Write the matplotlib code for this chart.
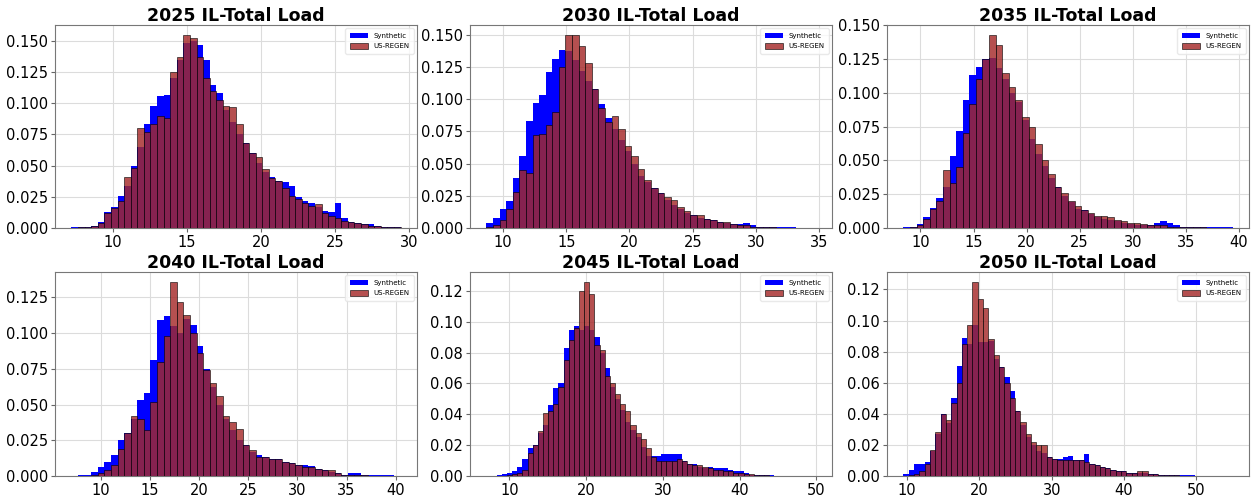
import numpy as np
import matplotlib
matplotlib.use("Agg")
import matplotlib.pyplot as plt
from matplotlib.ticker import MultipleLocator, FormatStrFormatter

years = ["2025", "2030", "2035", "2040", "2045", "2050"]
titles = [f"{y} IL-Total Load" for y in years]
series_names = ["Synthetic", "US-REGEN"]

# bin ranges (first edge, last edge, number of bins)
bin_start = [7.2, 8.7, 8.4, 7.0, 7.0, 9.5]
bin_stop = [29.4, 34.7, 39.4, 40.5, 49.88, 55.0]
bin_count = [50, 50, 50, 50, 64, 62]

# tick steps and label formats seen on the axes
x_step = [5, 5, 5, 5, 10, 10]
y_step = [0.025, 0.025, 0.025, 0.025, 0.02, 0.02]
y_fmt = ["%.3f", "%.3f", "%.3f", "%.3f", "%.2f", "%.2f"]

syn_2025 = [0.0005, 0.001, 0.001, 0.002, 0.005, 0.013, 0.017, 0.026, 0.034, 0.050,
            0.065, 0.083, 0.098, 0.106, 0.107, 0.120, 0.135, 0.148, 0.150, 0.147,
            0.135, 0.115, 0.108, 0.095, 0.085, 0.075, 0.068, 0.060, 0.052, 0.045,
            0.041, 0.038, 0.037, 0.034, 0.025, 0.022, 0.020, 0.017, 0.014, 0.013,
            0.020, 0.008, 0.005, 0.004, 0.003, 0.003, 0.002, 0.001, 0.001, 0.0005]
reg_2025 = [0.0003, 0.0005, 0.001, 0.002, 0.004, 0.012, 0.016, 0.022, 0.041, 0.048,
            0.080, 0.077, 0.083, 0.090, 0.088, 0.125, 0.137, 0.155, 0.152, 0.137,
            0.120, 0.110, 0.103, 0.098, 0.097, 0.083, 0.068, 0.060, 0.057, 0.047,
            0.040, 0.038, 0.032, 0.026, 0.023, 0.020, 0.018, 0.019, 0.012, 0.010,
            0.008, 0.006, 0.005, 0.004, 0.003, 0.002, 0.002, 0.001, 0.001, 0.0005]

syn_2030 = [0.004, 0.008, 0.015, 0.021, 0.039, 0.056, 0.083, 0.097, 0.103, 0.121,
            0.131, 0.138, 0.137, 0.130, 0.122, 0.114, 0.108, 0.096, 0.085, 0.077,
            0.068, 0.060, 0.050, 0.040, 0.036, 0.031, 0.027, 0.022, 0.018, 0.015,
            0.012, 0.010, 0.008, 0.007, 0.006, 0.005, 0.004, 0.003, 0.003, 0.004,
            0.002, 0.001, 0.001, 0.0008, 0.0006, 0.0005, 0.0004, 0.0003, 0.0003, 0.0002]
reg_2030 = [0.0005, 0.002, 0.006, 0.015, 0.028, 0.045, 0.043, 0.072, 0.073, 0.080,
            0.090, 0.125, 0.150, 0.150, 0.141, 0.128, 0.108, 0.093, 0.082, 0.087,
            0.077, 0.064, 0.056, 0.046, 0.037, 0.031, 0.027, 0.024, 0.022, 0.016,
            0.013, 0.010, 0.010, 0.007, 0.006, 0.005, 0.005, 0.003, 0.002, 0.002,
            0.001, 0.001, 0.0005, 0.0005, 0.0003, 0.0003, 0.0002, 0.0002, 0.0001, 0.0001]

syn_2035 = [0.0005, 0.001, 0.003, 0.008, 0.015, 0.022, 0.030, 0.053, 0.072, 0.095,
            0.113, 0.119, 0.125, 0.126, 0.118, 0.110, 0.100, 0.093, 0.080, 0.066,
            0.055, 0.046, 0.037, 0.030, 0.024, 0.019, 0.014, 0.013, 0.010, 0.008,
            0.007, 0.006, 0.005, 0.004, 0.003, 0.002, 0.002, 0.002, 0.004, 0.005,
            0.004, 0.002, 0.001, 0.001, 0.0005, 0.0005, 0.0005, 0.0005, 0.001, 0.0005]
reg_2035 = [0.0, 0.0005, 0.002, 0.007, 0.014, 0.020, 0.043, 0.033, 0.045, 0.070,
            0.092, 0.110, 0.125, 0.143, 0.135, 0.115, 0.104, 0.095, 0.082, 0.075,
            0.062, 0.050, 0.040, 0.030, 0.026, 0.020, 0.016, 0.013, 0.011, 0.009,
            0.009, 0.008, 0.006, 0.005, 0.004, 0.004, 0.003, 0.002, 0.002, 0.002,
            0.001, 0.001, 0.0008, 0.0006, 0.0005, 0.0004, 0.0003, 0.0003, 0.0002, 0.0002]

syn_2040 = [0.0003, 0.0005, 0.001, 0.003, 0.006, 0.010, 0.015, 0.025, 0.030, 0.040,
            0.053, 0.058, 0.081, 0.109, 0.112, 0.105, 0.100, 0.110, 0.106, 0.091,
            0.075, 0.062, 0.050, 0.040, 0.032, 0.025, 0.022, 0.017, 0.015, 0.013,
            0.012, 0.012, 0.010, 0.009, 0.008, 0.008, 0.007, 0.005, 0.004, 0.003,
            0.002, 0.001, 0.002, 0.002, 0.001, 0.001, 0.0005, 0.0005, 0.0005, 0.0003]
reg_2040 = [0.0, 0.0, 0.0, 0.0005, 0.002, 0.004, 0.008, 0.019, 0.030, 0.042,
            0.040, 0.032, 0.052, 0.080, 0.098, 0.136, 0.122, 0.113, 0.100, 0.086,
            0.074, 0.065, 0.056, 0.042, 0.038, 0.033, 0.022, 0.018, 0.013, 0.013,
            0.012, 0.012, 0.010, 0.009, 0.008, 0.006, 0.006, 0.005, 0.004, 0.004,
            0.002, 0.001, 0.001, 0.0005, 0.0005, 0.0003, 0.0003, 0.0002, 0.0002, 0.0001]

syn_2045 = [0.0003, 0.0003, 0.0005, 0.001, 0.002, 0.003, 0.006, 0.011, 0.018, 0.020,
            0.028, 0.033, 0.046, 0.057, 0.060, 0.083, 0.095, 0.097, 0.095, 0.097,
            0.095, 0.090, 0.080, 0.070, 0.058, 0.050, 0.043, 0.035, 0.030, 0.025,
            0.019, 0.013, 0.013, 0.013, 0.014, 0.014, 0.014, 0.014, 0.010, 0.008,
            0.008, 0.006, 0.005, 0.006, 0.005, 0.005, 0.005, 0.004, 0.003, 0.003,
            0.002, 0.0005, 0.0005, 0.0005, 0.0004, 0.0004, 0.0003, 0.0003, 0.0003, 0.0003,
            0.0003, 0.0002, 0.0002, 0.0002]
reg_2045 = [0.0, 0.0, 0.0, 0.0, 0.0005, 0.001, 0.002, 0.004, 0.015, 0.020,
            0.029, 0.041, 0.042, 0.047, 0.058, 0.075, 0.088, 0.096, 0.120, 0.126,
            0.118, 0.085, 0.082, 0.065, 0.060, 0.053, 0.047, 0.042, 0.033, 0.028,
            0.024, 0.018, 0.012, 0.010, 0.010, 0.010, 0.010, 0.011, 0.010, 0.008,
            0.007, 0.007, 0.006, 0.005, 0.004, 0.004, 0.003, 0.003, 0.002, 0.002,
            0.001, 0.001, 0.0005, 0.0005, 0.0004, 0.0003, 0.0003, 0.0003, 0.0002, 0.0002,
            0.0002, 0.0002, 0.0001, 0.0001]

syn_2050 = [0.001, 0.004, 0.008, 0.008, 0.009, 0.016, 0.027, 0.040, 0.034, 0.050,
            0.071, 0.089, 0.085, 0.097, 0.086, 0.086, 0.087, 0.075, 0.070, 0.064,
            0.055, 0.042, 0.033, 0.025, 0.020, 0.016, 0.015, 0.012, 0.011, 0.011,
            0.012, 0.013, 0.010, 0.010, 0.014, 0.008, 0.007, 0.006, 0.005, 0.004,
            0.003, 0.003, 0.002, 0.002, 0.002, 0.002, 0.001, 0.001, 0.0005, 0.0005,
            0.0005, 0.0005, 0.0004, 0.0004, 0.0004, 0.0003, 0.0003, 0.0003, 0.0003, 0.0003,
            0.0003, 0.0002]
reg_2050 = [0.0, 0.0005, 0.001, 0.003, 0.008, 0.017, 0.028, 0.040, 0.036, 0.047,
            0.060, 0.085, 0.097, 0.125, 0.114, 0.108, 0.088, 0.078, 0.070, 0.060,
            0.050, 0.042, 0.035, 0.027, 0.022, 0.020, 0.020, 0.012, 0.011, 0.010,
            0.010, 0.010, 0.010, 0.010, 0.009, 0.008, 0.007, 0.006, 0.005, 0.004,
            0.003, 0.003, 0.002, 0.002, 0.003, 0.003, 0.001, 0.001, 0.0005, 0.0005,
            0.0004, 0.0004, 0.0003, 0.0003, 0.0003, 0.0003, 0.0002, 0.0002, 0.0002, 0.0002,
            0.0001, 0.0001]

synthetic = [syn_2025, syn_2030, syn_2035, syn_2040, syn_2045, syn_2050]
usregen = [reg_2025, reg_2030, reg_2035, reg_2040, reg_2045, reg_2050]

W, H = 1252, 496
fig = plt.figure(figsize=(W / 100, H / 100), dpi=100)

lefts = [55, 470, 887]
tops = [25, 272]
bottoms = [228, 476]
ax_w = 362

for i in range(6):
    r, c = divmod(i, 3)
    x0 = lefts[c] / W
    y0 = 1 - bottoms[r] / H
    h = (bottoms[r] - tops[r]) / H
    ax = fig.add_axes([x0, y0, ax_w / W, h])
    edges = np.linspace(bin_start[i], bin_stop[i], bin_count[i] + 1)
    ax.hist(edges[:-1], bins=edges, weights=synthetic[i], color="blue",
            alpha=1.0, label=series_names[0], zorder=2)
    ax.hist(edges[:-1], bins=edges, weights=usregen[i], color="brown",
            alpha=0.82, edgecolor="black", linewidth=0.5,
            label=series_names[1], zorder=3)
    ax.set_title(titles[i], fontsize=12.5, fontweight="bold", pad=3)
    ax.xaxis.set_major_locator(MultipleLocator(x_step[i]))
    ax.yaxis.set_major_locator(MultipleLocator(y_step[i]))
    ax.yaxis.set_major_formatter(FormatStrFormatter(y_fmt[i]))
    ax.grid(True, color="#dcdcdc", linewidth=0.8, zorder=0)
    ax.set_axisbelow(True)
    ax.tick_params(labelsize=10.5, length=3, color="#666666", pad=2)
    for s in ax.spines.values():
        s.set_color("#777777")
        s.set_linewidth(0.8)
    leg = ax.legend(loc="upper right", fontsize=5, frameon=True,
                    handlelength=2.6, handleheight=0.9, borderpad=0.6,
                    labelspacing=0.6)
    leg.get_frame().set_edgecolor("#e4e4e4")

fig.savefig("out.png", dpi=100)
